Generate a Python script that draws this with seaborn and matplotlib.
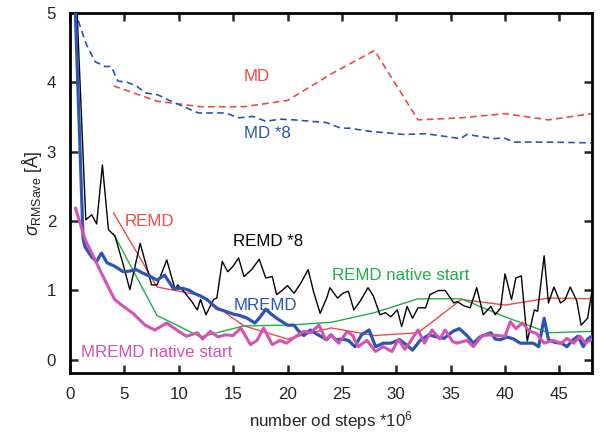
import matplotlib
matplotlib.use("Agg")
import matplotlib.pyplot as plt
import seaborn as sns
import pandas as pd

# ---- data ----
coarse_x = [4, 8, 12, 16, 20, 24, 28, 32, 36, 40, 44, 48]
md_y = [3.95, 3.73, 3.65, 3.65, 3.74, 4.12, 4.46, 3.46, 3.49, 3.55, 3.46, 3.55]
remd_y = [2.12, 1.05, 0.93, 0.49, 0.30, 0.46, 0.35, 0.39, 0.87, 0.79, 0.89, 0.88]
remd_native_y = [1.82, 0.64, 0.33, 0.49, 0.50, 0.54, 0.68, 0.88, 0.88, 0.62, 0.39, 0.41]

md8_x = [0.5, 0.74, 1.5, 2.3, 3.2, 3.8, 4.4, 5.3, 6.1, 6.9, 8.1, 9.0, 10.6, 11.8, 14.3,
         15.5, 16.8, 18.0, 19.3, 20.6, 23.6, 24.9, 25.7, 27.3, 30.7, 32.8, 35.9, 36.5,
         39.0, 39.9, 40.8, 43.9, 47.4, 48.0]
md8_y = [5.2, 4.9, 4.55, 4.30, 4.23, 4.23, 4.02, 4.00, 3.95, 3.85, 3.82, 3.75, 3.64, 3.56,
         3.56, 3.49, 3.51, 3.44, 3.47, 3.46, 3.42, 3.34, 3.34, 3.30, 3.25, 3.26, 3.19, 3.25,
         3.19, 3.20, 3.14, 3.14, 3.13, 3.13]

remd8_x = [0.6, 1.45, 2.0, 2.45, 2.98, 3.53, 4.14, 4.9, 5.5, 6.45, 7.5, 8.0, 8.9, 9.67, 9.9,
           10.6, 11.2, 11.7, 12.0, 12.5, 13.2, 13.5, 14.0, 14.5, 15.0, 15.5, 16.0, 16.7,
           17.4, 18.0, 18.6, 19.0, 19.5, 20.0, 20.6, 21.2, 21.9, 22.4, 23.0, 23.6, 23.9,
           24.6, 25.1, 25.6, 26.1, 26.7, 27.4, 27.9, 28.5, 29.0, 29.5, 30.1, 30.5, 31.0,
           31.5, 32.0, 32.7, 33.1, 33.9, 34.5, 35.3, 35.6, 36.2, 36.8, 37.4, 38.0, 38.7,
           39.1, 39.6, 40.0, 40.6, 41.0, 41.5, 42.05, 42.7, 43.0, 43.6, 44.0, 44.5, 45.1,
           45.5, 46.0, 46.6, 47.0, 47.6, 48.0]
remd8_y = [5.2, 2.02, 2.09, 1.96, 2.81, 1.88, 1.78, 1.37, 1.01, 1.68, 1.08, 1.08, 1.44, 1.01,
           1.08, 0.96, 0.84, 0.72, 0.87, 0.65, 0.87, 0.89, 1.42, 1.27, 1.35, 1.47, 1.20,
           1.30, 1.45, 1.18, 1.20, 0.94, 1.00, 1.07, 0.96, 1.10, 1.30, 0.98, 0.67, 0.89,
           1.04, 0.89, 0.96, 0.99, 0.72, 0.85, 1.04, 0.92, 0.65, 0.68, 0.62, 0.72, 0.48,
           0.77, 0.60, 0.75, 0.75, 0.94, 1.00, 1.00, 0.82, 0.84, 0.78, 0.75, 1.04, 0.65,
           0.77, 0.65, 0.75, 1.24, 0.87, 1.18, 1.21, 0.27, 0.72, 0.70, 1.50, 0.82, 1.05,
           0.82, 0.86, 1.05, 0.85, 0.50, 0.60, 1.00]

mremd_x = [0.45, 1.2, 1.38, 2.0, 2.45, 2.9, 3.4, 4.1, 4.9, 5.5, 6.1, 6.7, 7.4, 8.0, 8.7, 9.5,
           10.4, 11.0, 11.4, 12.0, 12.6, 13.5, 14.3, 15.0, 15.6, 16.3, 17.0, 17.5, 18.0,
           18.5, 19.0, 19.5, 20.0, 20.6, 21.0, 21.5, 22.1, 22.7, 23.6, 24.0, 24.4, 25.0,
           25.6, 26.2, 26.8, 27.5, 28.1, 28.8, 29.5, 30.3, 30.9, 31.5, 32.2, 33.0, 33.7,
           34.4, 35.2, 35.8, 36.5, 37.1, 37.7, 38.2, 38.7, 39.1, 39.6, 40.2, 40.8, 41.4,
           42.0, 42.6, 43.1, 43.6, 44.0, 44.6, 45.2, 45.7, 46.2, 46.7, 47.2, 47.6, 48.0]
mremd_y = [5.2, 1.75, 1.63, 1.48, 1.42, 1.54, 1.40, 1.35, 1.27, 1.28, 1.30, 1.25, 1.20, 1.15,
           1.22, 1.03, 1.03, 1.00, 0.96, 0.92, 0.87, 0.74, 0.70, 0.66, 0.64, 0.60, 0.53,
           0.62, 0.73, 0.66, 0.60, 0.55, 0.50, 0.50, 0.42, 0.35, 0.43, 0.37, 0.29, 0.36,
           0.29, 0.30, 0.28, 0.19, 0.36, 0.43, 0.19, 0.24, 0.24, 0.29, 0.22, 0.14, 0.28,
           0.36, 0.33, 0.31, 0.41, 0.45, 0.35, 0.24, 0.33, 0.36, 0.39, 0.30, 0.29, 0.33,
           0.30, 0.24, 0.24, 0.24, 0.19, 0.60, 0.29, 0.25, 0.24, 0.19, 0.28, 0.34, 0.19,
           0.30, 0.34]

mremd_native_x = [0.5, 1.4, 2.3, 3.2, 4.1, 4.9, 5.8, 6.9, 7.8, 8.9, 10.0, 10.7, 11.7, 12.2,
                  12.9, 13.6, 14.3, 15.0, 15.7, 16.6, 17.2, 17.8, 18.6, 19.3, 19.9, 20.6,
                  21.5, 22.1, 22.9, 23.5, 24.0, 24.7, 25.5, 26.0, 26.5, 27.3, 28.1, 28.8,
                  29.6, 30.2, 30.8, 31.4, 32.0, 32.6, 33.3, 34.0, 34.5, 35.2, 35.6, 36.5,
                  37.1, 37.9, 38.6, 39.4, 40.0, 40.5, 41.0, 41.6, 42.2, 42.9, 43.6, 44.4,
                  45.2, 45.7, 46.3, 46.9, 47.4, 48.0]
mremd_native_y = [2.19, 1.73, 1.44, 1.15, 0.87, 0.77, 0.67, 0.50, 0.43, 0.53, 0.41, 0.34,
                  0.39, 0.30, 0.41, 0.33, 0.36, 0.35, 0.46, 0.22, 0.28, 0.46, 0.22, 0.28,
                  0.24, 0.32, 0.41, 0.39, 0.50, 0.29, 0.36, 0.24, 0.41, 0.35, 0.19, 0.28,
                  0.12, 0.19, 0.12, 0.29, 0.15, 0.29, 0.43, 0.24, 0.43, 0.30, 0.43, 0.26,
                  0.24, 0.28, 0.19, 0.35, 0.36, 0.35, 0.34, 0.55, 0.45, 0.53, 0.42, 0.38,
                  0.24, 0.28, 0.24, 0.31, 0.24, 0.34, 0.24, 0.30]

x_ticks = [0, 5, 10, 15, 20, 25, 30, 35, 40, 45]
y_ticks = [0, 1, 2, 3, 4, 5]

# ---- style ----
sns.set_style("ticks")
plt.rcParams["font.family"] = ["Liberation Sans", "DejaVu Sans"]
plt.rcParams["mathtext.fontset"] = "custom"
plt.rcParams["mathtext.rm"] = "Liberation Sans"
plt.rcParams["mathtext.it"] = "Liberation Sans:italic"

RED = "#ee4a45"
BLUE = "#2a55b5"
GREEN = "#1fae4a"
MAG = "#d452b4"
FS = 12.2

fig = plt.figure(figsize=(6.01, 4.36), dpi=100)
ax = fig.add_axes([0.1165, 0.1445, 0.8685, 0.8255])

def draw(x, y, color, lw, ls="-", z=2):
    df = pd.DataFrame({"x": x, "y": y})
    sns.lineplot(data=df, x="x", y="y", ax=ax, color=color, linewidth=lw,
                 linestyle=ls, sort=False, estimator=None, zorder=z)

draw(coarse_x, md_y, RED, 1.2, (0, (4, 2.5)))
draw(md8_x, md8_y, BLUE, 1.2, (0, (4, 2.5)))
draw(remd8_x, remd8_y, "black", 1.0, z=3)
draw(coarse_x, remd_y, RED, 1.0, z=2)
draw(coarse_x, remd_native_y, GREEN, 1.0, z=2)
draw(mremd_x, mremd_y, BLUE, 2.3, z=4)
draw(mremd_native_x, mremd_native_y, MAG, 2.2, z=4)

# labels on the lines
ax.text(16.0, 4.08, "MD", color=RED, fontsize=FS, va="center")
ax.text(16.0, 3.26, "MD *8", color=BLUE, fontsize=FS, va="center")
ax.text(5.0, 2.0, "REMD", color=RED, fontsize=FS, va="center")
ax.text(15.0, 1.70, "REMD *8", color="black", fontsize=FS, va="center")
ax.text(24.1, 1.21, "REMD native start", color=GREEN, fontsize=FS, va="center")
ax.text(15.0, 0.78, "MREMD", color=BLUE, fontsize=FS, va="center")
ax.text(1.0, 0.10, "MREMD native start", color=MAG, fontsize=FS, va="center")

ax.set_xlim(0, 48)
ax.set_ylim(-0.19, 5.0)
ax.set_xticks(x_ticks)
ax.set_yticks(y_ticks)
ax.tick_params(direction="in", length=6, width=1.8, labelsize=FS,
               top=True, right=True, pad=10)
for s in ax.spines.values():
    s.set_linewidth(2.0)
    s.set_color("black")

ax.set_xlabel("number od steps *10$^6$", fontsize=FS, labelpad=5)
ax.set_ylabel(r"$\sigma_{\mathrm{RMSave}}$ [Å]", fontsize=FS + 0.5, labelpad=2)

fig.savefig("out.png", dpi=100)
